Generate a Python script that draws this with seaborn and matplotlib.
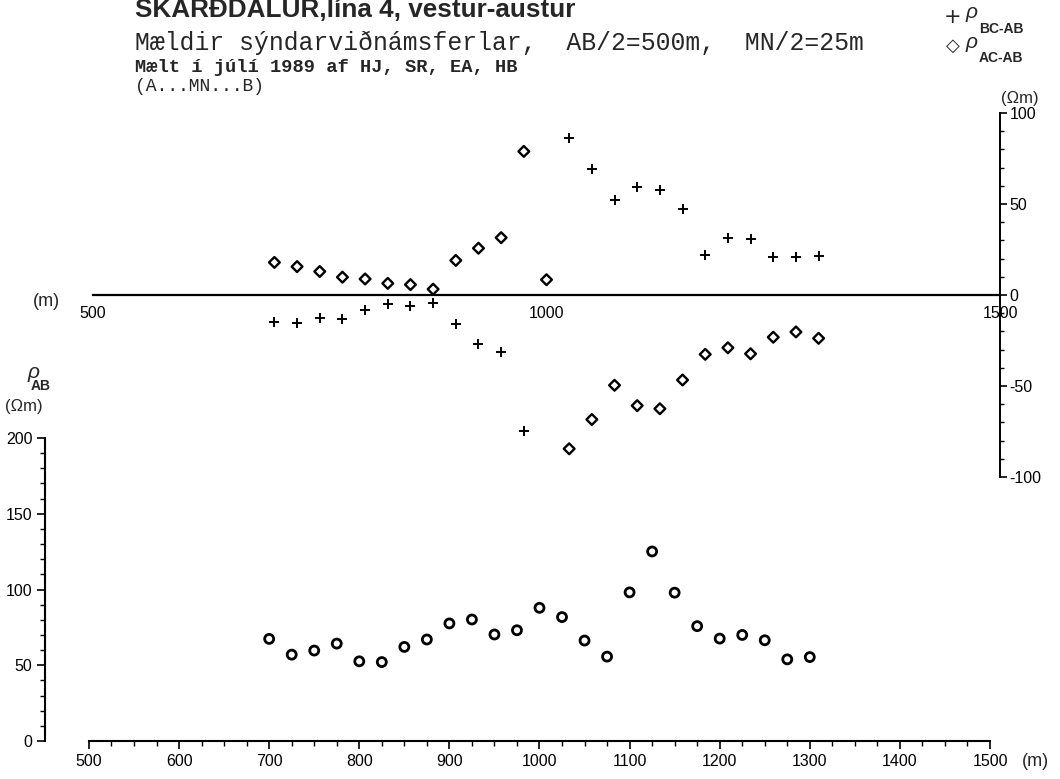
import numpy as np
import pandas as pd
import matplotlib
matplotlib.use("Agg")
import matplotlib.pyplot as plt
from matplotlib.ticker import FixedLocator, MultipleLocator
import seaborn as sns

# ---------------- data ----------------
position_m = [700, 725, 750, 775, 800, 825, 850, 875, 900, 925, 950, 975, 1000,
              1025, 1050, 1075, 1100, 1125, 1150, 1175, 1200, 1225, 1250, 1275, 1300]
rho_ab = [67.4, 57.0, 59.7, 64.3, 52.6, 52.1, 62.1, 67.0, 77.6, 80.2, 70.3, 73.1, 87.9,
          81.8, 66.3, 55.7, 98.1, 125.1, 97.9, 75.8, 67.6, 70.0, 66.5, 53.9, 55.4]
rho_bc_ab = [-15.0, -15.5, -12.6, -13.4, -8.4, -5.1, -6.1, -4.3, -16.1, -27.0, -31.5, -74.5, np.nan,
             86.3, 69.0, 52.3, 59.6, 57.5, 47.4, 22.2, 31.1, 30.9, 20.8, 20.9, 21.4]
rho_ac_ab = [17.9, 15.6, 12.9, 9.8, 8.8, 6.4, 5.7, 3.2, 19.0, 25.7, 31.5, 78.9, 8.4,
             -84.5, -68.4, -49.6, -60.8, -62.5, -46.7, -32.6, -29.0, -32.3, -23.2, -20.3, -23.8]

upper_xticks = [500, 1000, 1500]
upper_yticks = [-100, -50, 0, 50, 100]
lower_xticks = [500, 600, 700, 800, 900, 1000, 1100, 1200, 1300, 1400, 1500]
lower_yticks = [0, 50, 100, 150, 200]

title = "SKARÐDALUR,lína 4, vestur-austur"
subtitle = "Mældir sýndarviðnámsferlar,  AB/2=500m,  MN/2=25m"
line3 = "Mælt í júlí 1989 af HJ, SR, EA, HB"
line4 = "(A...MN...B)"

df = pd.DataFrame({"x": position_m, "ab": rho_ab, "bc": rho_bc_ab, "ac": rho_ac_ab})

# ---------------- style ----------------
sns.set_theme(style="white")
plt.rcParams["font.family"] = ["Liberation Sans", "DejaVu Sans"]
plt.rcParams["axes.unicode_minus"] = False

W, H = 1060, 779
fig = plt.figure(figsize=(W / 100, H / 100), dpi=100)
fig.patch.set_facecolor("white")

def fx(px):
    return px / W

def fy(py):
    return 1 - py / H

TICKFS = 11.5

# ---------------- upper panel ----------------
ax1 = fig.add_axes([fx(93), fy(477), fx(1000) - fx(93), fy(113) - fy(477)])
ax1.patch.set_alpha(0)
sns.scatterplot(data=df, x="x", y="bc", ax=ax1, marker="+", s=60, color="black",
                linewidth=1.4, legend=False)
sns.scatterplot(data=df, x="x", y="ac", ax=ax1, marker="D", s=30, color="black",
                linewidth=1.7, legend=False)
ax1.collections[-1].set_facecolor("none")
ax1.collections[-1].set_edgecolor("black")
ax1.set_xlim(500, 1500)
ax1.set_ylim(-100, 100)
ax1.set_xlabel("")
ax1.set_ylabel("")
for s in ["top", "left"]:
    ax1.spines[s].set_visible(False)
ax1.spines["bottom"].set_position(("data", 0))
ax1.spines["bottom"].set_linewidth(1.6)
ax1.spines["right"].set_linewidth(1.4)
ax1.spines["bottom"].set_color("black")
ax1.spines["right"].set_color("black")
ax1.xaxis.set_major_locator(FixedLocator(upper_xticks))
ax1.xaxis.set_minor_locator(MultipleLocator(25))
ax1.yaxis.set_major_locator(FixedLocator(upper_yticks))
ax1.yaxis.set_minor_locator(MultipleLocator(10))
ax1.yaxis.tick_right()
ax1.tick_params(axis="x", which="major", direction="out", length=6, width=1.2,
                pad=2, labelsize=TICKFS, colors="black")
ax1.tick_params(axis="x", which="minor", direction="out", length=4, width=1.0, colors="black")
ax1.tick_params(axis="y", which="major", direction="out", length=5, width=1.2,
                pad=2, labelsize=TICKFS, right=True, left=False, labelright=True,
                labelleft=False, colors="black")
ax1.tick_params(axis="y", which="minor", direction="out", length=3, width=1.0,
                right=True, left=False, colors="black")
ax1.set_xticklabels([str(v) for v in upper_xticks])
ax1.set_yticklabels([str(v) for v in upper_yticks])

# ---------------- lower panel ----------------
ax2 = fig.add_axes([fx(45), fy(741), fx(990) - fx(45), fy(438) - fy(741)])
ax2.patch.set_alpha(0)
sns.scatterplot(data=df, x="x", y="ab", ax=ax2, marker="o", s=42, color="black",
                linewidth=2.0, legend=False)
ax2.collections[-1].set_facecolor("none")
ax2.collections[-1].set_edgecolor("black")
ax2.set_xlim(451.2, 1500)
ax2.set_ylim(0, 200)
ax2.set_xlabel("")
ax2.set_ylabel("")
for s in ["top", "right"]:
    ax2.spines[s].set_visible(False)
ax2.spines["bottom"].set_bounds(500, 1500)
ax2.spines["left"].set_bounds(0, 200)
for s in ["bottom", "left"]:
    ax2.spines[s].set_linewidth(1.5)
    ax2.spines[s].set_color("black")
ax2.xaxis.set_major_locator(FixedLocator(lower_xticks))
ax2.xaxis.set_minor_locator(FixedLocator(list(range(500, 1501, 25))))
ax2.yaxis.set_major_locator(FixedLocator(lower_yticks))
ax2.yaxis.set_minor_locator(MultipleLocator(10))
ax2.tick_params(axis="both", which="major", direction="out", length=6, width=1.2,
                pad=3, labelsize=TICKFS, bottom=True, left=True, colors="black")
ax2.tick_params(axis="both", which="minor", direction="out", length=3.5, width=1.0,
                bottom=True, left=True, colors="black")
ax2.set_xticklabels([str(v) for v in lower_xticks])
ax2.set_yticklabels([str(v) for v in lower_yticks])

# ---------------- texts ----------------
fig.text(fx(135), fy(17), title, fontsize=18.8, fontweight="bold",
         family=["Liberation Sans", "DejaVu Sans"], va="baseline", ha="left")
fig.text(fx(135), fy(50), subtitle, fontsize=17.8,
         family=["Liberation Mono", "DejaVu Sans Mono"], va="baseline", ha="left")
fig.text(fx(135), fy(72), line3, fontsize=13.5, fontweight="bold",
         family=["Liberation Mono", "DejaVu Sans Mono"], va="baseline", ha="left")
fig.text(fx(135), fy(91), line4, fontsize=13,
         family=["Liberation Mono", "DejaVu Sans Mono"], va="baseline", ha="left")

# legend (top right)
fig.text(fx(953), fy(17), "+", fontsize=15, va="center", ha="center",
         family=["DejaVu Sans"])
fig.text(fx(953), fy(46), "◇", fontsize=13, va="center", ha="center",
         family=["DejaVu Sans"], fontweight="bold")
fig.text(fx(966), fy(13), "ρ", fontsize=15, style="italic", va="center", ha="left")
fig.text(fx(979), fy(29), "BC-AB", fontsize=10, fontweight="bold", va="center", ha="left")
fig.text(fx(966), fy(42), "ρ", fontsize=15, style="italic", va="center", ha="left")
fig.text(fx(979), fy(58), "AC-AB", fontsize=10, fontweight="bold", va="center", ha="left")
fig.text(fx(1020), fy(98), "(Ωm)", fontsize=12, va="center", ha="center")

# upper axis unit
fig.text(fx(46), fy(302), "(m)", fontsize=13, va="center", ha="center")

# lower axis labels
fig.text(fx(28), fy(372), "ρ", fontsize=15, style="italic", va="center", ha="left")
fig.text(fx(31), fy(386), "AB", fontsize=10, fontweight="bold", va="center", ha="left")
fig.text(fx(24), fy(406), "(Ωm)", fontsize=12, va="center", ha="center")
fig.text(fx(1022), fy(762), "(m)", fontsize=13, va="center", ha="left")

fig.savefig("out.png", dpi=100, facecolor="white")
